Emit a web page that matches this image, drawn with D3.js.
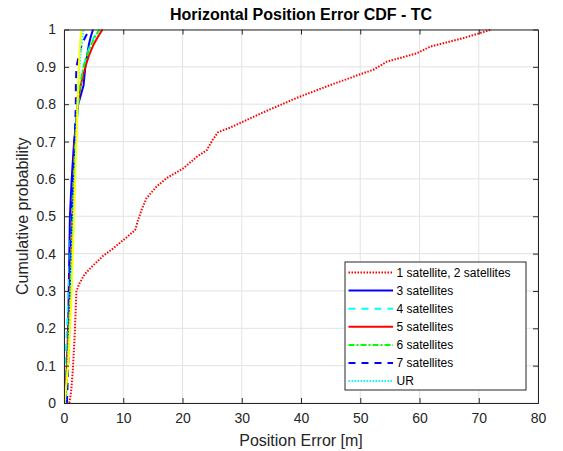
<!DOCTYPE html>
<html><head><meta charset="utf-8">
<script src="https://cdn.jsdelivr.net/npm/d3@7"></script>
<style>body{margin:0;background:#fff;} svg{display:block;font-family:"Liberation Sans",Arial,sans-serif;}</style>
</head><body>
<svg id="c" width="563" height="451"></svg>
<script>
const title = "Horizontal Position Error CDF - TC";
const xLabel = "Position Error [m]";
const yLabel = "Cumulative probability";
const xTicks = [0,10,20,30,40,50,60,70,80];
const yTicks = [0,0.1,0.2,0.3,0.4,0.5,0.6,0.7,0.8,0.9,1];

// 1 satellite, 2 satellites (red dotted)
const s12X = [0.9,1.2,1.5,1.8,2.0,2.1,2.6,3.5,4.7,6.6,8.3,10.6,12.0,12.5,13.1,13.9,15.6,17.3,20.1,22.4,24.1,25.1,26.0,28.0,33.6,39.3,44.9,50.5,52.2,54.5,59.5,61.8,67.4,72.2];
const s12Y = [0.0,0.03,0.09,0.18,0.26,0.30,0.32,0.345,0.365,0.394,0.414,0.444,0.463,0.49,0.517,0.548,0.579,0.602,0.628,0.659,0.677,0.705,0.725,0.737,0.778,0.817,0.851,0.883,0.892,0.914,0.936,0.954,0.977,1.0];

const pLevels = [0,0.1,0.2,0.3,0.4,0.5,0.6,0.7,0.8,0.85,0.9,0.93,0.96,0.98,1];
const s3X  = [0.3,0.5,0.7,0.8,0.9,1.0,1.3,1.7,2.4,3.3,3.6,3.9,4.2,4.5,4.9];
const s4X  = [0.0,0.2,0.5,0.8,1.0,1.3,1.6,2.0,2.4,2.8,3.3,3.8,4.5,5.1,5.8];
const s5X  = [0.2,0.5,0.8,1.0,1.2,1.4,1.6,1.8,2.3,2.8,3.6,4.2,5.0,5.7,6.5];
const s6X  = [0.3,0.6,0.9,1.1,1.3,1.5,1.7,1.9,2.3,2.7,3.3,3.9,4.6,5.2,6.0];
const s7X  = [0.5,0.7,0.9,1.0,1.1,1.3,1.5,1.8,2.0,2.0,2.1,2.5,3.0,3.6,4.3];
const urX  = [0.2,0.6,0.9,1.1,1.3,1.5,1.7,2.0,2.2,2.4,2.6,2.8,3.0,3.1,3.3];
const yelX = [0.1,0.7,1.0,1.3,1.5,1.7,1.9,2.1,2.3,2.4,2.5,2.6,2.7,2.8,3.0];

const names = ["1 satellite, 2 satellites","3 satellites","4 satellites","5 satellites","6 satellites","7 satellites","UR"];

const series = [
  {name:names[0], xs:s12X, ys:s12Y, color:"#ff0000", dash:"1.5,1.5", w:2},
  {name:names[1], xs:s3X, ys:pLevels, color:"#0000ff", dash:null, w:2},
  {name:names[2], xs:s4X, ys:pLevels, color:"#00ffff", dash:"7,6", w:2},
  {name:names[3], xs:s5X, ys:pLevels, color:"#ff0000", dash:null, w:2},
  {name:names[4], xs:s6X, ys:pLevels, color:"#00ff00", dash:"6,2,2,2", w:2},
  {name:names[5], xs:s7X, ys:pLevels, color:"#0000ff", dash:"7,6", w:2},
  {name:names[6], xs:urX, ys:pLevels, color:"#00ffff", dash:"1.5,1.5", w:2},
];
const extra = {xs:yelX, ys:pLevels, color:"#ffff00", dash:null, w:2};

const svg = d3.select("#c");
const L=64, R=538, T=29.5, B=403;
const x = d3.scaleLinear().domain([0,80]).range([L,R]);
const y = d3.scaleLinear().domain([0,1]).range([B,T]);
const ink = "#262626";

// grid
svg.append("g").selectAll("line").data(xTicks).join("line")
  .attr("x1",d=>x(d)).attr("x2",d=>x(d)).attr("y1",T).attr("y2",B)
  .attr("stroke","#e3e3e3").attr("stroke-width",1);
svg.append("g").selectAll("line").data(yTicks).join("line")
  .attr("y1",d=>y(d)).attr("y2",d=>y(d)).attr("x1",L).attr("x2",R)
  .attr("stroke","#e3e3e3").attr("stroke-width",1);

// lines
const clip = svg.append("clipPath").attr("id","clp").append("rect")
  .attr("x",L).attr("y",T-2).attr("width",R-L).attr("height",B-T+4);
const lg = svg.append("g").attr("clip-path","url(#clp)");
function draw(s){
  const pts = s.xs.map((v,i)=>[v,s.ys[i]]);
  const line = d3.line().x(d=>x(d[0])).y(d=>y(d[1]));
  lg.append("path").attr("d",line(pts)).attr("fill","none")
    .attr("stroke",s.color).attr("stroke-width",s.w)
    .attr("stroke-dasharray",s.dash)
    .attr("stroke-linejoin","round");
}
series.forEach(draw);
draw(extra);

// axes
const fmtY = d=> d===0?"0":(d===1?"1":d3.format(".1f")(d));
const ax = svg.append("g").attr("transform",`translate(0,${B})`)
  .call(d3.axisBottom(x).tickValues(xTicks).tickSize(-5).tickPadding(10).tickFormat(d3.format("d")));
const axT = svg.append("g").attr("transform",`translate(0,${T})`)
  .call(d3.axisTop(x).tickValues(xTicks).tickSize(-5).tickFormat(""));
const ay = svg.append("g").attr("transform",`translate(${L},0)`)
  .call(d3.axisLeft(y).tickValues(yTicks).tickSize(-5).tickPadding(8).tickFormat(fmtY));
const ayR = svg.append("g").attr("transform",`translate(${R},0)`)
  .call(d3.axisRight(y).tickValues(yTicks).tickSize(-5).tickFormat(""));
[ax,axT,ay,ayR].forEach(g=>{
  g.select(".domain").attr("stroke",ink).attr("stroke-width",1);
  g.selectAll(".tick line").attr("stroke",ink);
  g.selectAll("text").attr("fill",ink).style("font-size","14px").style("font-family","'Liberation Sans',Arial,sans-serif");
});
ax.selectAll(".tick line").filter(d=>d===0||d===80).remove();
axT.selectAll(".tick line").filter(d=>d===0||d===80).remove();
ay.selectAll(".tick line").filter(d=>d===0||d===1).remove();
ayR.selectAll(".tick line").filter(d=>d===0||d===1).remove();

// labels
svg.append("text").attr("x",(L+R)/2).attr("y",20).attr("text-anchor","middle")
  .attr("fill","#000").style("font-size","16px").style("font-weight","bold").text(title);
svg.append("text").attr("x",(L+R)/2).attr("y",446).attr("text-anchor","middle")
  .attr("fill",ink).style("font-size","16px").text(xLabel);
svg.append("text").attr("transform",`translate(28,${(T+B)/2}) rotate(-90)`).attr("text-anchor","middle")
  .attr("fill",ink).style("font-size","16px").text(yLabel);

// legend
const lgx=345, lgy=262, lgw=181, lgh=128;
const leg = svg.append("g");
leg.append("rect").attr("x",lgx).attr("y",lgy).attr("width",lgw).attr("height",lgh)
  .attr("fill","#fff").attr("stroke",ink).attr("stroke-width",1);
series.forEach((s,i)=>{
  const yy = lgy+10.5+i*18.1;
  leg.append("line").attr("x1",lgx+3.5).attr("x2",lgx+48).attr("y1",yy).attr("y2",yy)
    .attr("stroke",s.color).attr("stroke-width",s.w).attr("stroke-dasharray",s.dash);
  leg.append("text").attr("x",lgx+51.5).attr("y",yy).attr("dy","0.35em")
    .attr("fill","#000").style("font-size","12px").text(s.name);
});
</script>
</body></html>
